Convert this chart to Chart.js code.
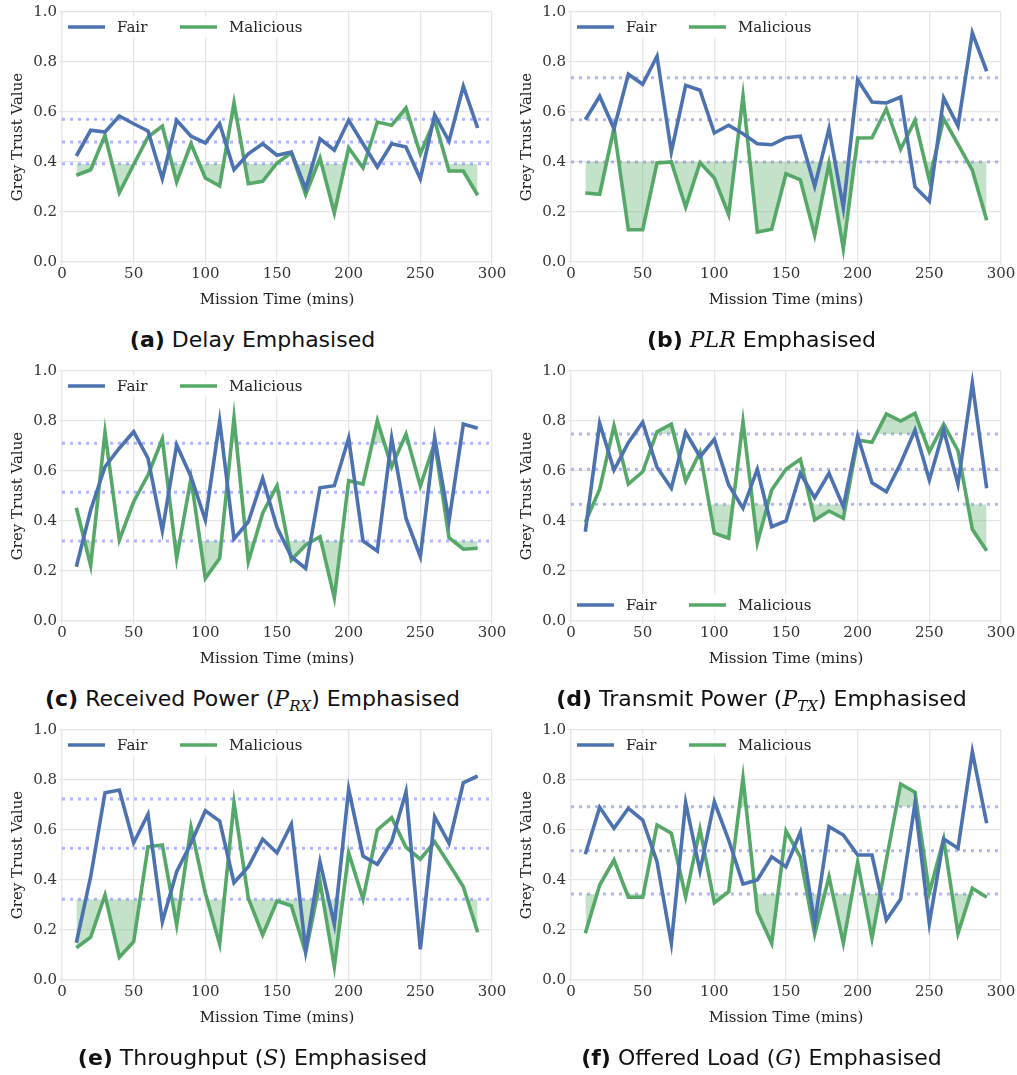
<!DOCTYPE html>
<html>
<head>
<meta charset="utf-8">
<script src="https://cdn.jsdelivr.net/npm/chart.js@4.4.0/dist/chart.umd.min.js"></script>
<style>
  body { margin: 0; background: #fff; }
  #fig { position: relative; width: 1017px; height: 1075px; }
  .panel { position: absolute; width: 510px; height: 310px; }
  .cap { position: absolute; width: 505px; text-align: center; font-family: "DejaVu Sans"; font-size: 22px; line-height: 28px; color: #111; }
  .m { font-family: "DejaVu Serif"; font-style: italic; }
  .m sub { font-size: 15px; }
</style>
</head>
<body>
<div id="fig"></div>
<script>
// mission time (mins)
const times = [10,20,30,40,50,60,70,80,90,100,110,120,130,140,150,160,170,180,190,200,210,220,230,240,250,260,270,280,290];

// (a) delay
const fairDelay = [0.424,0.527,0.52,0.584,0.553,0.524,0.333,0.567,0.503,0.476,0.553,0.369,0.433,0.473,0.427,0.44,0.293,0.493,0.447,0.567,0.473,0.38,0.473,0.46,0.333,0.589,0.483,0.703,0.536];
const malDelay = [0.347,0.369,0.507,0.277,0.39,0.5,0.544,0.32,0.473,0.336,0.304,0.637,0.313,0.323,0.396,0.437,0.27,0.416,0.196,0.457,0.377,0.56,0.547,0.616,0.433,0.567,0.364,0.364,0.267];
const thrDelay = [0.393,0.48,0.571];

// (b) PLR
const fairPlr = [0.569,0.663,0.533,0.751,0.711,0.823,0.44,0.707,0.687,0.516,0.547,0.513,0.473,0.469,0.497,0.503,0.303,0.533,0.217,0.729,0.64,0.636,0.66,0.3,0.243,0.656,0.544,0.917,0.763];
const malPlr = [0.276,0.271,0.536,0.129,0.129,0.396,0.4,0.22,0.397,0.336,0.189,0.664,0.12,0.131,0.353,0.329,0.107,0.393,0.053,0.496,0.497,0.613,0.451,0.567,0.327,0.573,0.471,0.367,0.167];
const thrPlr = [0.4,0.569,0.737];

// (c) received power
const fairRx = [0.217,0.444,0.617,0.691,0.757,0.651,0.361,0.704,0.577,0.404,0.8,0.328,0.397,0.571,0.375,0.257,0.21,0.533,0.541,0.731,0.32,0.28,0.731,0.411,0.257,0.733,0.4,0.788,0.771];
const malRx = [0.453,0.221,0.755,0.324,0.477,0.584,0.728,0.251,0.571,0.171,0.251,0.813,0.237,0.431,0.541,0.244,0.304,0.337,0.093,0.561,0.548,0.801,0.617,0.748,0.54,0.713,0.333,0.287,0.291];
const thrRx = [0.32,0.515,0.711];

// (d) transmit power
const fairTx = [0.357,0.791,0.604,0.713,0.795,0.615,0.531,0.755,0.657,0.727,0.544,0.451,0.607,0.377,0.4,0.591,0.493,0.591,0.457,0.74,0.553,0.517,0.631,0.764,0.564,0.764,0.547,0.951,0.531];
const malTx = [0.395,0.527,0.781,0.548,0.597,0.757,0.787,0.56,0.675,0.351,0.331,0.797,0.313,0.524,0.607,0.647,0.404,0.44,0.411,0.724,0.715,0.828,0.8,0.831,0.677,0.787,0.681,0.367,0.281];
const thrTx = [0.467,0.607,0.748];

// (e) throughput
const fairS = [0.149,0.413,0.749,0.76,0.549,0.663,0.233,0.433,0.547,0.677,0.636,0.389,0.453,0.563,0.509,0.623,0.12,0.473,0.223,0.763,0.496,0.463,0.553,0.753,0.123,0.653,0.547,0.789,0.816];
const malS = [0.129,0.171,0.34,0.091,0.153,0.533,0.54,0.22,0.611,0.347,0.143,0.709,0.327,0.18,0.316,0.297,0.109,0.393,0.053,0.509,0.324,0.6,0.649,0.531,0.483,0.553,0.464,0.373,0.191];
const thrS = [0.323,0.527,0.724];

// (f) offered load
const fairG = [0.503,0.691,0.607,0.687,0.64,0.473,0.147,0.709,0.436,0.713,0.56,0.384,0.4,0.493,0.453,0.591,0.227,0.613,0.58,0.5,0.5,0.24,0.324,0.707,0.227,0.564,0.527,0.913,0.627];
const malG = [0.187,0.38,0.48,0.331,0.331,0.62,0.587,0.333,0.603,0.309,0.353,0.809,0.273,0.147,0.596,0.493,0.183,0.413,0.147,0.471,0.167,0.48,0.784,0.751,0.349,0.564,0.187,0.367,0.331];
const thrG = [0.344,0.517,0.693];

const azul = "#4c72b0";
const verde = "#55a868";
const preenche = "rgba(85,168,104,0.35)";
const pontilhado = "rgba(105,105,255,0.5)";
const grade = "#e6e6e6";

function pares(ys) {
    return times.map(function (t, i) { return { x: t, y: ys[i] }; });
}

// legend drawn inside the plot, like matplotlib
const legendaInterna = {
    id: 'legendaInterna',
    afterDatasetsDraw: function (chart, args, opts) {
        const ctx = chart.ctx, a = chart.chartArea;
        const y = opts.embaixo ? a.bottom - 16 : a.top + 15;
        const x0 = a.left + 6;
        const itens = chart.data.datasets.filter(function (d) { return d.naLegenda; });
        ctx.save();
        ctx.fillStyle = "rgba(255,255,255,0.8)";
        ctx.fillRect(x0 - 4, y - 11, 250, 22);
        ctx.font = "15px 'DejaVu Serif'";
        ctx.textBaseline = "middle";
        itens.forEach(function (d, i) {
            const x = x0 + i * 112;
            ctx.strokeStyle = d.borderColor;
            ctx.lineWidth = 3.5;
            ctx.beginPath();
            ctx.moveTo(x, y);
            ctx.lineTo(x + 37, y);
            ctx.stroke();
            ctx.fillStyle = "#222";
            ctx.fillText(d.label, x + 49, y + 1);
        });
        ctx.restore();
    }
};

const paineis = [
    { fair: fairDelay, mal: malDelay, thr: thrDelay, left: 0, top: 0, emb: false,
      cap: '<b>(a)</b> Delay Emphasised' },
    { fair: fairPlr, mal: malPlr, thr: thrPlr, left: 509, top: 0, emb: false,
      cap: '<b>(b)</b> <span class="m">PLR</span> Emphasised' },
    { fair: fairRx, mal: malRx, thr: thrRx, left: 0, top: 359, emb: false,
      cap: '<b>(c)</b> Received Power (<span class="m">P<sub>RX</sub></span>) Emphasised' },
    { fair: fairTx, mal: malTx, thr: thrTx, left: 509, top: 359, emb: true,
      cap: '<b>(d)</b> Transmit Power (<span class="m">P<sub>TX</sub></span>) Emphasised' },
    { fair: fairS, mal: malS, thr: thrS, left: 0, top: 718, emb: false,
      cap: '<b>(e)</b> Throughput (<span class="m">S</span>) Emphasised' },
    { fair: fairG, mal: malG, thr: thrG, left: 509, top: 718, emb: false,
      cap: '<b>(f)</b> Offered Load (<span class="m">G</span>) Emphasised' }
];

const fig = document.getElementById("fig");

paineis.forEach(function (p) {
    const box = document.createElement("div");
    box.className = "panel";
    box.style.left = p.left + "px";
    box.style.top = p.top + "px";
    const canvas = document.createElement("canvas");
    canvas.width = 510;
    canvas.height = 310;
    box.appendChild(canvas);
    fig.appendChild(box);

    const cap = document.createElement("div");
    cap.className = "cap";
    cap.style.left = p.left + "px";
    cap.style.top = (p.top + 326) + "px";
    cap.innerHTML = p.cap;
    fig.appendChild(cap);

    const linhasThr = p.thr.map(function (t) {
        return {
            data: [{ x: 0, y: t }, { x: 300, y: t }],
            borderColor: pontilhado,
            borderWidth: 2.8,
            borderDash: [3, 5],
            pointRadius: 0,
            fill: false,
            order: 5
        };
    });

    new Chart(canvas, {
        type: 'line',
        data: {
            datasets: [
                {
                    label: "Fair",
                    naLegenda: true,
                    data: pares(p.fair),
                    borderColor: azul,
                    borderWidth: 3.6,
                    pointRadius: 0,
                    fill: false,
                    order: 0
                },
                {
                    label: "Malicious",
                    naLegenda: true,
                    data: pares(p.mal),
                    borderColor: verde,
                    backgroundColor: preenche,
                    borderWidth: 3.6,
                    pointRadius: 0,
                    fill: { target: { value: p.thr[0] }, above: "rgba(0,0,0,0)", below: preenche },
                    order: 1
                },
                {
                    label: "acima",
                    data: pares(p.mal),
                    borderWidth: 0,
                    borderColor: "rgba(0,0,0,0)",
                    pointRadius: 0,
                    fill: { target: { value: p.thr[2] }, above: preenche, below: "rgba(0,0,0,0)" },
                    order: 2
                }
            ].concat(linhasThr)
        },
        options: {
            responsive: false,
            animation: false,
            devicePixelRatio: 1,
            layout: { padding: { left: 0, right: 18, top: 12, bottom: 0 } },
            plugins: {
                legend: { display: false },
                tooltip: { enabled: false },
                legendaInterna: { embaixo: p.emb }
            },
            scales: {
                x: {
                    type: 'linear',
                    min: 0,
                    max: 300,
                    ticks: { stepSize: 50, color: "#333", font: { family: "DejaVu Serif", size: 15 }, padding: 0, maxRotation: 0 },
                    grid: { color: grade, lineWidth: 1.3, tickLength: 3 },
                    border: { color: grade, width: 1.3 },
                    title: { display: true, text: "Mission Time (mins)", color: "#222",
                             font: { family: "DejaVu Serif", size: 15 }, padding: { top: 0, bottom: 1 } },
                    afterFit: function (s) { s.height = 48; }
                },
                y: {
                    min: 0,
                    max: 1,
                    ticks: { stepSize: 0.2, color: "#333", font: { family: "DejaVu Serif", size: 15 }, padding: 2,
                             callback: function (v) { return v.toFixed(1); } },
                    grid: { color: grade, lineWidth: 1.3, tickLength: 3 },
                    border: { color: grade, width: 1.3 },
                    title: { display: true, text: "Grey Trust Value", color: "#222",
                             font: { family: "DejaVu Serif", size: 15 }, padding: { top: 9, bottom: 0 } },
                    afterFit: function (s) { s.width = 62; }
                }
            }
        },
        plugins: [legendaInterna]
    });
});
</script>
</body>
</html>
